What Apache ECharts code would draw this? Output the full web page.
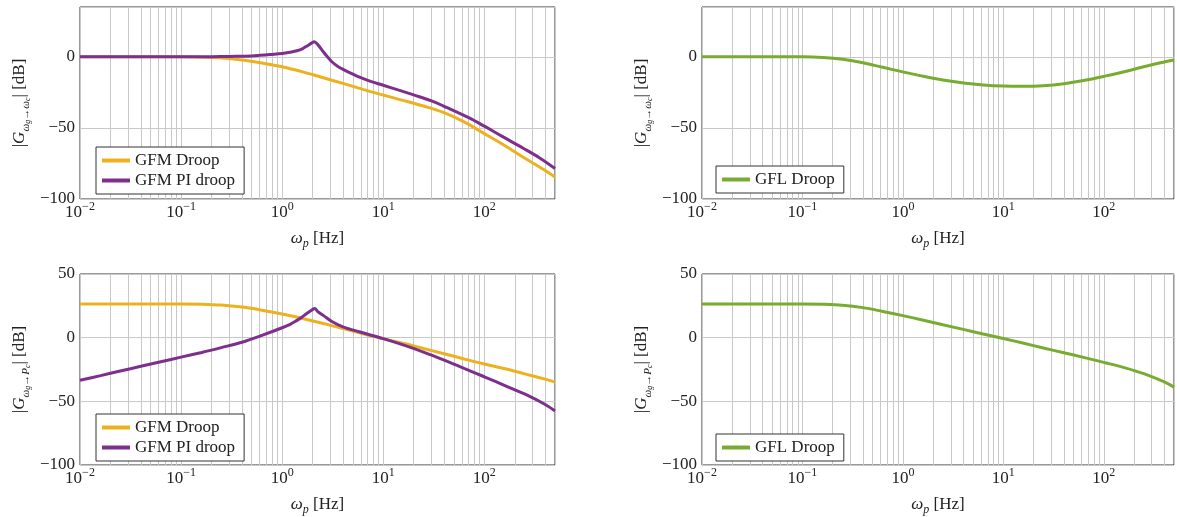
<!DOCTYPE html>
<html>
<head>
<meta charset="utf-8">
<script src="https://cdn.jsdelivr.net/npm/echarts@6/dist/echarts.min.js"></script>
<style>
html,body{margin:0;padding:0;background:#fff;}
#chart{width:1177px;height:517px;}
</style>
</head>
<body>
<div id="chart"></div>
<script>
// ---------- data ----------
// Top-left: |G wg->wc| [dB]
const gfmDroopW_f  = [0.01, 0.04, 0.1, 0.16, 0.25, 0.4, 0.63, 1, 1.6, 2.5, 4, 6.3, 10, 16, 25, 40, 63, 100, 160, 250, 400, 500];
const gfmDroopW_dB = [0, 0, 0, -0.3, -0.9, -2.3, -4.4, -7, -10.6, -14.6, -18.7, -22.9, -27, -30.8, -34.6, -39.3, -45.8, -54, -62.5, -71.2, -80, -84.5];
const gfmPiW_f  = [0.01, 0.1, 0.2, 0.3, 0.4, 0.5, 0.6, 0.76, 1, 1.2, 1.4, 1.6, 1.8, 1.95, 2.07, 2.27, 2.55, 2.8, 3.1, 3.5, 4.05, 5, 5.9, 7.5, 10, 14, 20, 30, 43, 70, 100, 150, 245, 350, 500];
const gfmPiW_dB = [0, 0, 0.1, 0.2, 0.4, 0.6, 1.0, 1.6, 2.3, 3.2, 4.2, 5.8, 8, 9.6, 10.5, 8.2, 3.5, 0, -3.5, -6.4, -9.0, -12.2, -14.5, -17.3, -20, -23.3, -26.8, -31, -35.8, -42.8, -48.8, -56, -64.5, -71, -78.6];
// Top-right
const gflW_f  = [0.01, 0.04, 0.1, 0.16, 0.25, 0.4, 0.63, 1, 1.6, 2.5, 4, 6.3, 10, 16, 25, 40, 63, 100, 160, 250, 400, 500];
const gflW_dB = [0, 0, 0, -0.5, -1.8, -4.2, -7.4, -10.6, -13.7, -16.3, -18.4, -19.8, -20.6, -20.8, -20.3, -18.9, -16.7, -13.8, -10.5, -7.0, -3.7, -2.3];
// Bottom-left: |G wg->Pc| [dB]
const gfmDroopP_f  = [0.01, 0.04, 0.1, 0.16, 0.25, 0.4, 0.63, 1, 1.6, 2.5, 4, 6.3, 10, 16, 25, 40, 63, 100, 160, 250, 400, 500];
const gfmDroopP_dB = [26.5, 26.5, 26.5, 26.3, 25.6, 24.0, 21.6, 18.6, 15.1, 11.3, 7.2, 3.0, -0.8, -4.6, -8.5, -12.6, -16.7, -20.7, -24.4, -28.4, -32.6, -34.9];
const gfmPiP_f  = [0.01, 0.016, 0.025, 0.04, 0.063, 0.1, 0.16, 0.25, 0.4, 0.63, 1, 1.2, 1.39, 1.55, 1.75, 1.95, 2.1, 2.25, 2.57, 3.1, 4.05, 5.9, 10, 16, 25, 40, 63, 100, 160, 250, 400, 500];
const gfmPiP_dB = [-33.5, -29.8, -26.2, -22.5, -18.9, -15.3, -11.6, -7.8, -3.6, 1.8, 7.8, 10.5, 13.4, 15.8, 19, 21.5, 23, 20.5, 17.3, 12.7, 8.3, 4.4, -0.8, -5.9, -11.3, -17.6, -24.1, -30.7, -37.6, -44.2, -52.5, -57.6];
// Bottom-right
const gflP_f  = [0.01, 0.04, 0.1, 0.16, 0.25, 0.4, 0.63, 1, 1.6, 2.5, 4, 6.3, 10, 16, 25, 40, 63, 100, 160, 250, 400, 500];
const gflP_dB = [26.4, 26.4, 26.4, 26.2, 25.5, 23.6, 20.6, 17.3, 13.7, 10.1, 6.5, 2.9, -0.7, -4.4, -8.1, -11.8, -15.5, -19.4, -23.5, -28.3, -34.8, -38.8];

// axis ticks / grid
const xMin = 0.01, xMax = 500;
const minorGrid = [0.02,0.03,0.04,0.05,0.06,0.07,0.08,0.09,
                   0.2,0.3,0.4,0.5,0.6,0.7,0.8,0.9,
                   2,3,4,5,6,7,8,9,
                   20,30,40,50,60,70,80,90,
                   200,300,400];
const yTopRange = [-100, 35];
const yBotRange = [-100, 50];

const COLORS = {gfm: '#EDB120', pi: '#7E2F8E', gfl: '#77AC30'};
const FONT = '"Liberation Serif", "DejaVu Serif", serif';
const TXT = '#222';
const FS = 17;

const zip = (f, v) => f.map((x, i) => [x, v[i]]);

const grids = [
  {left: 80,  right: 622, top: 7,   height: 192},
  {left: 702, right: 3,   top: 7,   height: 192},
  {left: 80,  right: 622, top: 274, height: 192},
  {left: 702, right: 3,   top: 274, height: 192}
];

function xAxis(i) {
  return {
    type: 'log', logBase: 10, gridIndex: i, min: xMin, max: xMax, interval: 1,
    name: '{i|ω}{s|p}{n| [Hz]}', nameLocation: 'middle', nameGap: 29,
    nameTextStyle: {
      rich: {
        i: {fontFamily: FONT, fontSize: FS, fontStyle: 'italic', color: TXT, lineHeight: 22},
        n: {fontFamily: FONT, fontSize: FS, color: TXT, lineHeight: 22},
        s: {fontFamily: FONT, fontSize: 12, fontStyle: 'italic', color: TXT, lineHeight: 11, verticalAlign: 'bottom'}
      }
    },
    axisLine: {show: false}, axisTick: {show: false},
    splitLine: {show: true, lineStyle: {color: '#c8c8c8', width: 1}},
    axisLabel: {
      margin: 2,
      showMaxLabel: false,
      formatter: function (v) {
        const l = Math.log10(v), e = Math.round(l);
        if (Math.abs(l - e) > 1e-6 || v > 450) return '';
        return '{b|10}{e|' + (e < 0 ? '\u2212' + (-e) : e) + '}';
      },
      rich: {
        b: {fontFamily: FONT, fontSize: FS, color: TXT, lineHeight: 24},
        e: {fontFamily: FONT, fontSize: 12, color: TXT, lineHeight: 11, verticalAlign: 'top'}
      }
    }
  };
}

function yAxis(i, range, nameStr) {
  return {
    type: 'value', gridIndex: i, min: range[0], max: range[1], interval: 50,
    name: nameStr, nameLocation: 'middle', nameGap: 48,
    nameTextStyle: {
      rich: {
        n: {fontFamily: FONT, fontSize: FS, color: TXT, lineHeight: 24},
        ni: {fontFamily: FONT, fontSize: FS, fontStyle: 'italic', color: TXT, lineHeight: 24},
        s: {fontFamily: FONT, fontSize: 11, fontStyle: 'italic', color: TXT, lineHeight: 11, verticalAlign: 'bottom'},
        sn: {fontFamily: FONT, fontSize: 11, color: TXT, lineHeight: 11, verticalAlign: 'bottom'},
        ss: {fontFamily: FONT, fontSize: 8, fontStyle: 'italic', color: TXT, lineHeight: 6, verticalAlign: 'bottom'}
      }
    },
    axisLine: {show: false}, axisTick: {show: false},
    splitLine: {show: true, lineStyle: {color: '#c8c8c8', width: 1}},
    axisLabel: {
      margin: 5, fontFamily: FONT, fontSize: FS, color: TXT,
      formatter: function (v) {
        if (v % 50 !== 0) return '';
        return String(v).replace('-', '\u2212');
      }
    }
  };
}

const nameW = '{n|\u007c}{ni|G}{s|ω}{ss|g}{sn|→}{s|ω}{ss|c}{n|\u007c [dB]}';
const nameP = '{n|\u007c}{ni|G}{s|ω}{ss|g}{sn|→}{s|P}{ss|c}{n|\u007c [dB]}';

function minorSeries(i) {
  return {
    type: 'line', xAxisIndex: i, yAxisIndex: i, data: [], silent: true, z: 1,
    markLine: {
      silent: true, symbol: ['none', 'none'], animation: false, z: 1,
      label: {show: false},
      lineStyle: {color: '#c8c8c8', width: 1, type: 'solid'},
      emphasis: {disabled: true},
      data: minorGrid.map(v => ({xAxis: v}))
    }
  };
}

function lineSeries(i, name, color, f, v) {
  return {
    type: 'line', name: name, xAxisIndex: i, yAxisIndex: i, z: 5,
    data: zip(f, v), showSymbol: false, symbol: 'none', smooth: 0.35,
    lineStyle: {color: color, width: 3}, itemStyle: {color: color},
    emphasis: {disabled: true}
  };
}

function legend(left, top, names) {
  return {
    left: left, top: top, orient: 'vertical', data: names, z: 20,
    icon: 'rect', itemWidth: 28, itemHeight: 4, itemGap: 3,
    padding: [5, 9, 5, 6], borderColor: '#333', borderWidth: 1, borderRadius: 0,
    backgroundColor: '#fff', selectedMode: false,
    textStyle: {fontFamily: FONT, fontSize: FS, color: TXT}
  };
}

const option = {
  animation: false,
  backgroundColor: '#fff',
  grid: grids.map(g => Object.assign({show: true, borderColor: '#333', borderWidth: 1, backgroundColor: 'transparent'}, g)),
  xAxis: [0, 1, 2, 3].map(xAxis),
  yAxis: [
    yAxis(0, yTopRange, nameW),
    yAxis(1, yTopRange, nameW),
    yAxis(2, yBotRange, nameP),
    yAxis(3, yBotRange, nameP)
  ],
  legend: [
    legend(96, 147, ['GFM Droop', 'GFM PI droop']),
    legend(716, 166, ['GFL Droop']),
    legend(96, 414, ['GFM Droop', 'GFM PI droop']),
    legend(716, 434, ['GFL Droop'])
  ],
  series: [
    minorSeries(0), minorSeries(1), minorSeries(2), minorSeries(3),
    lineSeries(0, 'GFM Droop', COLORS.gfm, gfmDroopW_f, gfmDroopW_dB),
    lineSeries(0, 'GFM PI droop', COLORS.pi, gfmPiW_f, gfmPiW_dB),
    lineSeries(1, 'GFL Droop', COLORS.gfl, gflW_f, gflW_dB),
    lineSeries(2, 'GFM Droop', COLORS.gfm, gfmDroopP_f, gfmDroopP_dB),
    lineSeries(2, 'GFM PI droop', COLORS.pi, gfmPiP_f, gfmPiP_dB),
    lineSeries(3, 'GFL Droop', COLORS.gfl, gflP_f, gflP_dB)
  ]
};

const chart = echarts.init(document.getElementById('chart'), null, {renderer: 'canvas'});
chart.setOption(option);
</script>
</body>
</html>
